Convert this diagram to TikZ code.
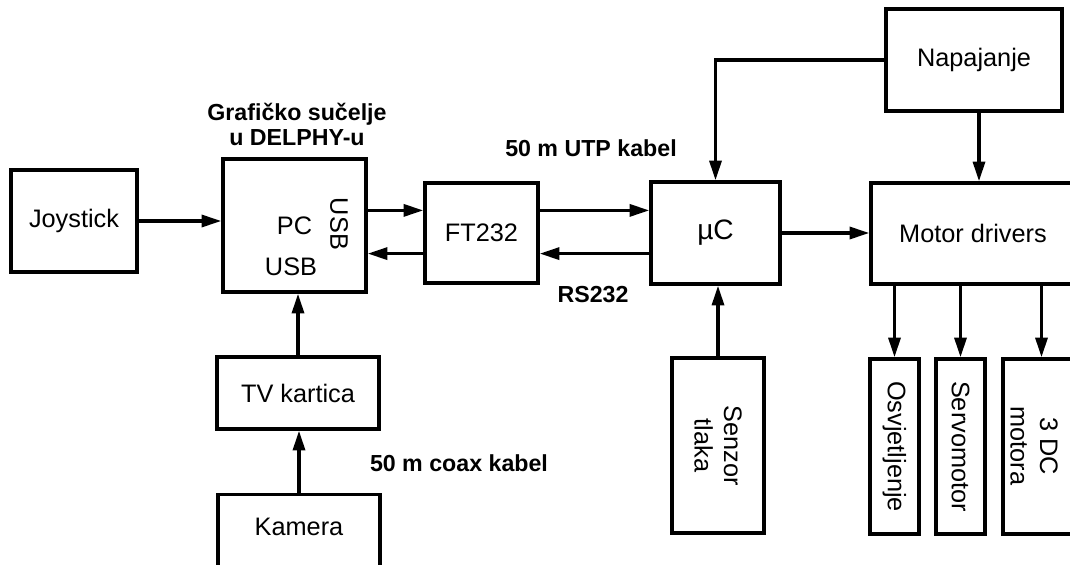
\documentclass[tikz,border=0pt]{standalone}
\usepackage{fontspec}
\setmainfont{Liberation Sans}
\usepackage{tikz}
\usetikzlibrary{arrows.meta,calc}

\begin{document}
\begin{tikzpicture}[>={Triangle[length=14pt,width=8.5pt]}, line width=2.4pt,
    blok/.style={draw, rectangle, inner sep=0pt, font=\fontsize{18}{21}\selectfont},
    natpis/.style={font=\fontsize{16.5}{17.8}\selectfont\bfseries, align=center}]
    \useasboundingbox (0,0) rectangle (26.75,14.1);
    \clip (0,0) rectangle (26.75,14.1);

    % lijevi dio: ulazi u PC
    \node[blok, minimum width=3.15cm, minimum height=2.55cm] (joy) at (1.85,8.575) {Joystick};
    \node[blok, minimum width=3.575cm, minimum height=3.325cm] (pc) at (7.3625,8.4625) {PC};
    \node[font=\fontsize{18}{21}\selectfont] (usbdolje) at (7.275,7.425) {USB};
    \node[font=\fontsize{18}{21}\selectfont, rotate=-90] (usbdesno) at (8.475,8.5) {USB};
    \node[natpis] (gui) at (7.425,10.9875) {Grafičko sučelje\\u DELPHY-u};

    \node[blok, minimum width=4.05cm, minimum height=1.8cm] (tv) at (7.45,4.275) {TV kartica};
    \node[blok, minimum width=4.05cm, minimum height=2.75cm, anchor=north] (kam) at (7.475,1.775) {};
    \node[font=\fontsize{18}{21}\selectfont] (kamtxt) at (7.475,0.925) {Kamera};
    \node[natpis] (coax) at (11.475,2.525) {50 m coax kabel};

    % sredina: FT232 i mikrokontroler
    \node[blok, minimum width=2.825cm, minimum height=2.5cm] (ft) at (12.0375,8.275) {FT232};
    \node[blok, minimum width=3.225cm, minimum height=2.55cm, font=\fontsize{20}{24}\selectfont] (uc) at (17.8875,8.275) {µC};
    \node[natpis] (utp) at (14.775,10.4) {50 m UTP kabel};
    \node[natpis] (rs) at (14.825,6.725) {RS232};
    \node[blok, rotate=-90, align=center, minimum width=4.375cm, minimum height=2.3cm] (senz) at (17.95,2.9625) {Senzor\\tlaka};

    % desni dio: napajanje i pogoni
    \node[blok, minimum width=4.4cm, minimum height=2.55cm] (nap) at (24.35,12.6) {Napajanje};
    \node[blok, minimum width=5.1cm, minimum height=2.525cm] (md) at (24.325,8.2625) {Motor drivers};
    \node[blok, rotate=-90, minimum width=4.375cm, minimum height=1.225cm] (osv) at (22.3625,2.9375) {Osvjetljenje};
    \node[blok, rotate=-90, minimum width=4.375cm, minimum height=1.225cm] (servo) at (24.0125,2.9375) {Servomotor};
    \node[blok, minimum width=1.925cm, minimum height=4.375cm] (dc) at (26.0375,2.9375) {};
    \node[font=\fontsize{18}{21}\selectfont, rotate=-90, align=center] (dctxt) at (25.85,2.95) {3 DC\\motora};

    % veze
    \draw[->] (joy) -- (joy -| pc.west);
    \draw[->] (tv) -- (tv |- pc.south);
    \draw[->] (kam) -- (kam |- tv.south);
    \draw[->] (pc.east |- 0,8.84) -- (ft.west |- 0,8.84);
    \draw[->] (ft.west |- 0,7.76) -- (pc.east |- 0,7.76);
    \draw[->] (ft.east |- 0,8.84) -- (uc.west |- 0,8.84);
    \draw[->] (uc.west |- 0,7.76) -- (ft.east |- 0,7.76);
    \draw[->] (senz) -- (senz |- uc.south);
    \draw[->] (nap.west) -| (uc.north);
    \draw[->] ([xshift=0.125cm]nap.south) -- ([xshift=0.125cm]nap.south |- md.north);
    \draw[->] (uc.east) -- (uc.east -| md.west);
    \draw[->] (osv |- md.south) -- (osv);
    \draw[->] (servo |- md.south) -- (servo);
    \draw[->] (dc |- md.south) -- (dc);
\end{tikzpicture}
\end{document}
